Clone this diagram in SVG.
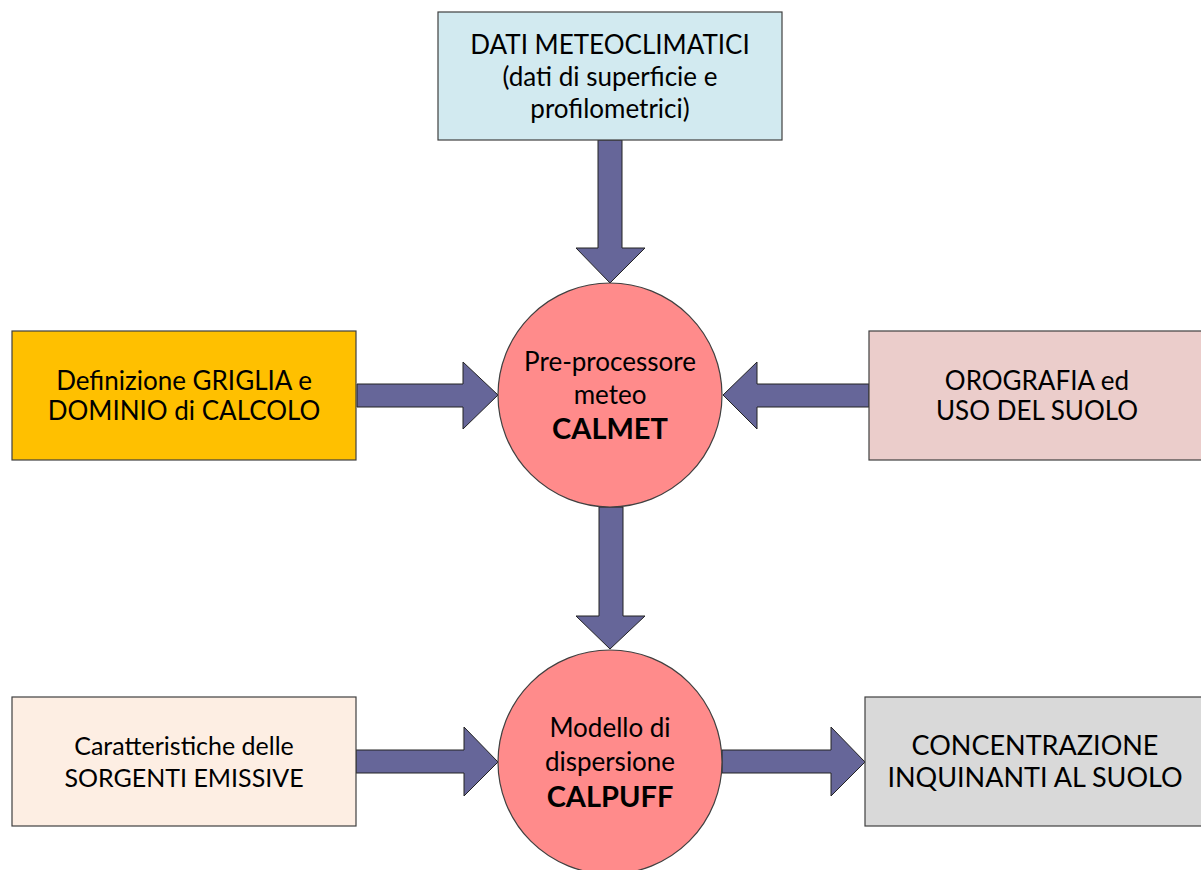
<svg xmlns="http://www.w3.org/2000/svg" width="1201" height="870" viewBox="0 0 1201 870">
<style>
.box{stroke:#404040;stroke-width:1.2}
.arr{fill:#666699;stroke:#222;stroke-width:1}
.circ{fill:#FF8B8B;stroke:#404040;stroke-width:1.2}
text{font-family:Lato,"Liberation Sans",sans-serif;font-size:26px;fill:#000;text-anchor:middle}
.b{font-weight:bold;font-size:29px}
</style>
<rect width="1201" height="870" fill="#fff"/>
<g id="connectors">
<path class="arr" d="M598,140 H622 V248 H645 L610,283 L576,248 H598 Z"/>
<path class="arr" d="M357,384 H463 V362 L498,395 L463,429 V407 H357 Z"/>
<path class="arr" d="M869,384 H757 V362 L723,395 L757,429 V407 H869 Z"/>
<path class="arr" d="M599,507 H623 V616 H645 L610,649 L576,616 H599 Z"/>
<path class="arr" d="M356,750 H464 V727 L498,762 L464,796 V773 H356 Z"/>
<path class="arr" d="M722,750 H831 V727 L865,762 L831,796 V773 H722 Z"/>
</g>
<g id="dati">
<rect class="box" x="438" y="12" width="344" height="128" fill="#D2EAF0"/>
<text x="610" y="54">DATI METEOCLIMATICI</text>
<text x="610" y="86">(dati di superficie e</text>
<text x="610" y="118">profilometrici)</text>
</g>
<g id="griglia">
<rect class="box" x="12" y="331" width="344" height="129" fill="#FFC000"/>
<text x="184" y="390">Definizione GRIGLIA e</text>
<text x="184" y="420">DOMINIO di CALCOLO</text>
</g>
<g id="orografia">
<rect class="box" x="869" y="331" width="334" height="129" fill="#EBCDCB"/>
<text x="1037" y="390">OROGRAFIA ed</text>
<text x="1037" y="420">USO DEL SUOLO</text>
</g>
<g id="calmet">
<circle class="circ" cx="610" cy="395" r="112"/>
<text x="610" y="371">Pre-processore</text>
<text x="610" y="404">meteo</text>
<text class="b" x="610" y="439">CALMET</text>
</g>
<g id="calpuff">
<circle class="circ" cx="610" cy="762" r="112"/>
<text x="610" y="737">Modello di</text>
<text x="610" y="771">dispersione</text>
<text class="b" x="610" y="807">CALPUFF</text>
</g>
<g id="sorgenti">
<rect class="box" x="12" y="697" width="344" height="129" fill="#FDEEE3"/>
<text x="184" y="755" style="font-size:25px">Caratteristiche delle</text>
<text x="184" y="787" style="font-size:25px">SORGENTI EMISSIVE</text>
</g>
<g id="concentrazione">
<rect class="box" x="865" y="697" width="338" height="129" fill="#D9D9D9"/>
<text x="1035" y="755" style="font-size:27px">CONCENTRAZIONE</text>
<text x="1035" y="787" style="font-size:27px">INQUINANTI AL SUOLO</text>
</g>
</svg>
